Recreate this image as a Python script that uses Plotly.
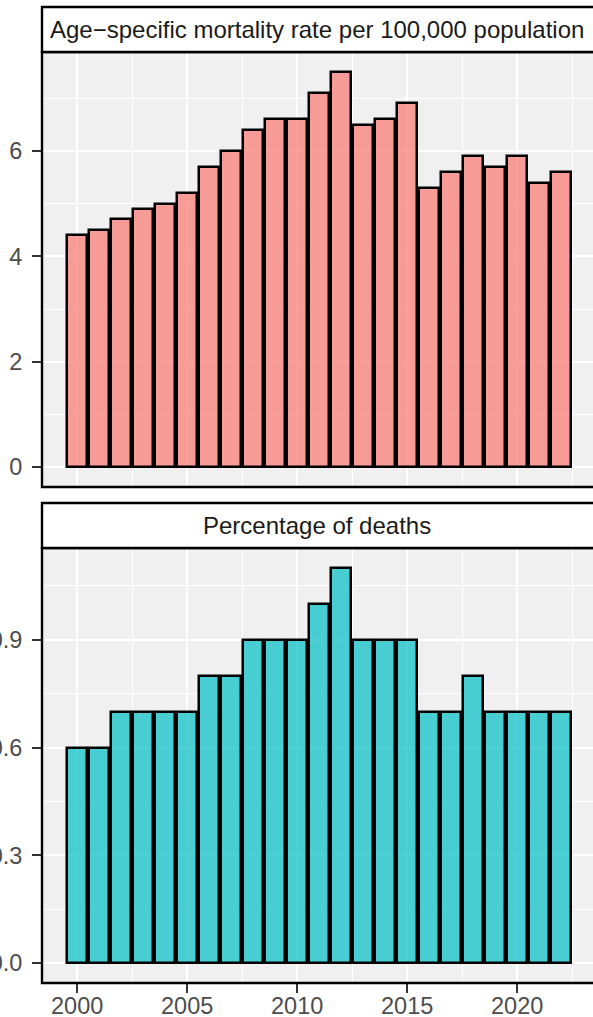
import plotly.graph_objects as go

years = list(range(2000, 2023))
rate = [4.4, 4.5, 4.7, 4.9, 5.0, 5.2, 5.7, 6.0, 6.4, 6.6, 6.6, 7.1, 7.5,
        6.5, 6.6, 6.9, 5.3, 5.6, 5.9, 5.7, 5.9, 5.4, 5.6]
pct = [0.6, 0.6, 0.7, 0.7, 0.7, 0.7, 0.8, 0.8, 0.9, 0.9, 0.9, 1.0, 1.1,
       0.9, 0.9, 0.9, 0.7, 0.7, 0.8, 0.7, 0.7, 0.7, 0.7]
strip_titles = ["Age\u2212specific mortality rate per 100,000 population",
                "Percentage of deaths"]
x_ticks = [2000, 2005, 2010, 2015, 2020]
x_ticktext = ["2000", "2005", "2010", "2015", "2020"]

W, H = 593, 1017
def px_x(p):
    return p / W
def px_y(p):
    return 1 - p / H

FONT = "Liberation Sans, Arial, Helvetica, sans-serif"

fig = go.Figure()
fig.add_trace(go.Bar(x=years, y=rate, width=0.9, xaxis="x", yaxis="y",
                     marker=dict(color="rgba(248,118,109,0.7)",
                                 line=dict(color="black", width=2.5)),
                     showlegend=False))
fig.add_trace(go.Bar(x=years, y=pct, width=0.9, xaxis="x2", yaxis="y2",
                     marker=dict(color="rgba(0,191,196,0.7)",
                                 line=dict(color="black", width=2.5)),
                     showlegend=False))

x0 = 42
xrange = [1998.405, 1998.405 + (W - x0) / 22.0]
p1 = (52, 487)
p2 = (548, 983)
s1 = (7, 52)
s2 = (503, 548)

grid = dict(showgrid=True, gridcolor="white", gridwidth=1.6, zeroline=False)
tickfont = dict(family=FONT, size=23.5, color="#4D4D4D")

common_x = dict(range=xrange, domain=[px_x(x0), 1], tickmode="array",
                tickvals=x_ticks, showline=False, automargin=False,
                minor=dict(dtick=2.5, tick0=2000, showgrid=True,
                           gridcolor="white", gridwidth=0.8), **grid)

fig.update_layout(
    width=W, height=H,
    margin=dict(l=0, r=0, t=0, b=0),
    paper_bgcolor="white", plot_bgcolor="#F0F0F0",
    bargap=0,
    xaxis=dict(anchor="y", showticklabels=False, ticks="", **common_x),
    xaxis2=dict(anchor="y2", ticks="outside", ticklen=9, tickwidth=2.2,
                tickcolor="#333333", showticklabels=False, **common_x),
    yaxis=dict(domain=[px_y(p1[1]), px_y(p1[0])], range=[-0.375, 7.875],
               anchor="x", tickmode="array", tickvals=[0, 2, 4, 6],
               ticktext=["0", "2", "4", "6"],
               ticks="outside", ticklen=9, tickwidth=2.2, tickcolor="#333333",
               tickfont=tickfont, ticklabelstandoff=5, automargin=False,
               minor=dict(tickvals=[1, 3, 5, 7], showgrid=True,
                          gridcolor="white", gridwidth=0.8), **grid),
    yaxis2=dict(domain=[px_y(p2[1]), px_y(p2[0])], range=[-0.055, 1.155],
                anchor="x2", tickmode="array", tickvals=[0, 0.3, 0.6, 0.9],
                ticktext=["0.0", "0.3", "0.6", "0.9"],
                ticks="outside", ticklen=9, tickwidth=2.2, tickcolor="#333333",
                tickfont=tickfont, ticklabelstandoff=5, automargin=False,
                minor=dict(tickvals=[0.15, 0.45, 0.75, 1.05], showgrid=True,
                           gridcolor="white", gridwidth=0.8), **grid),
)

shapes = []
annotations = []
for (pt, pb), (st, sb), title in [(p1, s1, strip_titles[0]), (p2, s2, strip_titles[1])]:
    shapes.append(dict(type="rect", xref="paper", yref="paper",
                       x0=px_x(x0), x1=px_x(W + 4), y0=px_y(pb), y1=px_y(pt),
                       line=dict(color="black", width=2.4), fillcolor="rgba(0,0,0,0)",
                       layer="above"))
    shapes.append(dict(type="rect", xref="paper", yref="paper",
                       x0=px_x(x0), x1=px_x(W + 4), y0=px_y(sb), y1=px_y(st),
                       line=dict(color="black", width=2.4), fillcolor="white",
                       layer="above"))
    annotations.append(dict(xref="paper", yref="paper",
                            x=px_x((x0 + 591) / 2), y=px_y((st + sb) / 2),
                            text=title, showarrow=False,
                            xanchor="center", yanchor="middle",
                            font=dict(family=FONT, size=24, color="#1A1A1A")))

# x tick labels of the bottom panel, placed on the x2 axis scale
for v, t in zip(x_ticks, x_ticktext):
    annotations.append(dict(xref="x2", yref="paper", x=v, y=px_y(1006),
                            text=t, showarrow=False, xanchor="center",
                            yanchor="middle", borderpad=0,
                            font=tickfont))

fig.update_layout(shapes=shapes, annotations=annotations)
fig.write_html("out.html", config={"displayModeBar": False},
               post_script="document.body.style.margin='0';document.body.style.overflow='hidden';")
